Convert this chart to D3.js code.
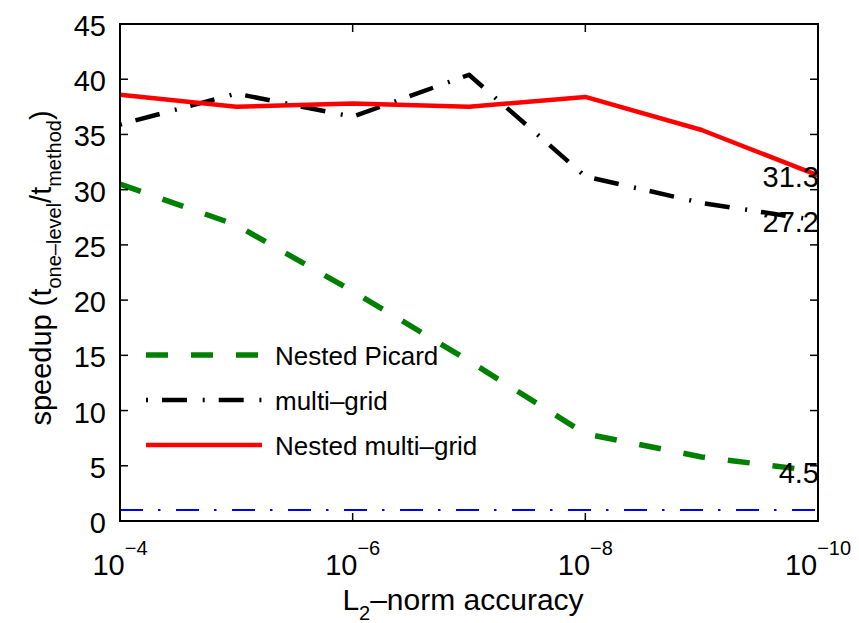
<!DOCTYPE html>
<html>
<head>
<meta charset="utf-8">
<script src="https://cdn.jsdelivr.net/npm/d3@7"></script>
<style>
  html, body { margin: 0; padding: 0; background: #fff; }
  svg { display: block; font-family: "Liberation Sans", Arial, Helvetica, sans-serif; }
</style>
</head>
<body>
<svg id="chart" width="859" height="623"></svg>
<script>
// ---- data ----
const accuracy = [1e-4, 1e-5, 1e-6, 1e-7, 1e-8, 1e-9, 1e-10];
const nestedPicard = [30.5, 26.8, 20.8, 14.5, 7.9, 5.8, 4.5];
const multiGrid = [35.9, 38.7, 36.6, 40.4, 31.2, 28.8, 27.2];
const nestedMultiGrid = [38.6, 37.5, 37.8, 37.5, 38.4, 35.4, 31.3];
const referenceLevel = 1;
const xTickValues = [1e-4, 1e-6, 1e-8, 1e-10];
const xTickExponents = ["\u22124", "\u22126", "\u22128", "\u221210"];
const yTickValues = [0, 5, 10, 15, 20, 25, 30, 35, 40, 45];
const seriesNames = ["Nested Picard", "multi\u2013grid", "Nested multi\u2013grid"];
const endLabels = ["4.5", "27.2", "31.3"];

// ---- layout ----
const L = 120, R = 818, T = 24, B = 521;
const svg = d3.select("#chart");
const x = d3.scaleLog().domain([1e-4, 1e-10]).range([L, R]);
const y = d3.scaleLinear().domain([0, 45]).range([B, T]);

const series = [
  { name: seriesNames[0], values: nestedPicard, color: "#008000", width: 5.5, dash: "22,23", label: endLabels[0] },
  { name: seriesNames[1], values: multiGrid, color: "#000000", width: 4.5, dash: "2,14,25,15.7", label: endLabels[1] },
  { name: seriesNames[2], values: nestedMultiGrid, color: "#ff0000", width: 4.5, dash: null, label: endLabels[2] }
];

svg.append("defs").append("clipPath").attr("id", "clip")
  .append("rect").attr("x", L).attr("y", T).attr("width", R - L).attr("height", B - T);

const plot = svg.append("g").attr("clip-path", "url(#clip)");

// reference line at speedup = 1
plot.append("path")
  .datum(accuracy)
  .attr("d", d3.line().x(d => x(d)).y(() => y(referenceLevel)))
  .attr("fill", "none")
  .attr("stroke", "#0000ff")
  .attr("stroke-width", 2)
  .attr("stroke-dasharray", "23,15,2.5,15.5");

const line = d3.line().x((d, i) => x(accuracy[i])).y(d => y(d));
series.forEach(s => {
  plot.append("path")
    .datum(s.values)
    .attr("d", line)
    .attr("fill", "none")
    .attr("stroke", s.color)
    .attr("stroke-width", s.width)
    .attr("stroke-linejoin", "round")
    .attr("stroke-dasharray", s.dash);
});

// frame
svg.append("rect")
  .attr("x", L).attr("y", T).attr("width", R - L).attr("height", B - T)
  .attr("fill", "none").attr("stroke", "#000").attr("stroke-width", 2);

const tickLen = 8;
// x ticks (bottom and top, inward)
xTickValues.forEach((v, i) => {
  const px = x(v);
  svg.append("line").attr("x1", px).attr("x2", px).attr("y1", B).attr("y2", B - tickLen)
    .attr("stroke", "#000").attr("stroke-width", 1.5);
  svg.append("line").attr("x1", px).attr("x2", px).attr("y1", T).attr("y2", T + tickLen)
    .attr("stroke", "#000").attr("stroke-width", 1.5);
  const t = svg.append("text").attr("x", px).attr("y", 575)
    .attr("text-anchor", "middle").attr("font-size", 29).attr("fill", "#000");
  t.append("tspan").text("10");
  t.append("tspan").attr("dy", -20).attr("font-size", 20).text(xTickExponents[i]);
});

// y ticks (left and right, inward)
yTickValues.forEach(v => {
  const py = y(v);
  svg.append("line").attr("x1", L).attr("x2", L + tickLen).attr("y1", py).attr("y2", py)
    .attr("stroke", "#000").attr("stroke-width", 1.5);
  svg.append("line").attr("x1", R).attr("x2", R - tickLen).attr("y1", py).attr("y2", py)
    .attr("stroke", "#000").attr("stroke-width", 1.5);
  svg.append("text").attr("x", 106).attr("y", py + 12)
    .attr("text-anchor", "end").attr("font-size", 29).attr("fill", "#000")
    .text(v);
});

// end labels
series.forEach(s => {
  svg.append("text")
    .attr("x", x(accuracy[accuracy.length - 1]) + 1)
    .attr("y", y(s.values[s.values.length - 1]) + 11.5)
    .attr("text-anchor", "end").attr("font-size", 29).attr("fill", "#000")
    .text(s.label);
});

// x label
const xl = svg.append("text").attr("x", 463).attr("y", 610)
  .attr("text-anchor", "middle").attr("font-size", 30).attr("fill", "#000");
xl.append("tspan").text("L");
xl.append("tspan").attr("dy", 10).attr("font-size", 20).text("2");
xl.append("tspan").attr("dy", -10).text("\u2013norm accuracy");

// y label
const yl = svg.append("text").attr("transform", "translate(51,268) rotate(-90)")
  .attr("text-anchor", "middle").attr("font-size", 29).attr("fill", "#000");
yl.append("tspan").text("speedup (t");
yl.append("tspan").attr("dy", 10).attr("font-size", 20).text("one\u2013level");
yl.append("tspan").attr("dy", -10).text("/t");
yl.append("tspan").attr("dy", 10).attr("font-size", 20).text("method");
yl.append("tspan").attr("dy", -10).text(")");

// legend
const legendRows = [355, 400, 445];
series.forEach((s, i) => {
  const ry = legendRows[i];
  svg.append("line").attr("x1", 146).attr("x2", 262).attr("y1", ry).attr("y2", ry)
    .attr("stroke", s.color).attr("stroke-width", s.width)
    .attr("stroke-dasharray", s.dash);
  svg.append("text").attr("x", 275).attr("y", ry + 10)
    .attr("font-size", 26).attr("fill", "#000").text(s.name);
});
</script>
</body>
</html>
